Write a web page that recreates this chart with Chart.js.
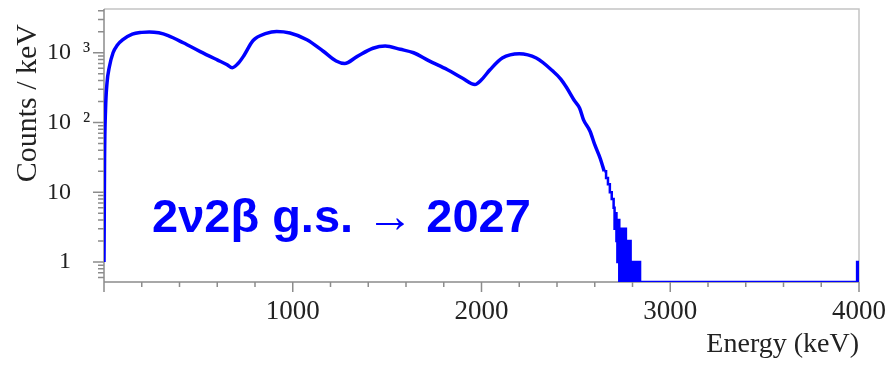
<!DOCTYPE html>
<html>
<head>
<meta charset="utf-8">
<script src="https://cdn.jsdelivr.net/npm/chart.js@4.4.1/dist/chart.umd.min.js"></script>
<style>
  html, body { margin: 0; padding: 0; background: #fff; }
  #wrap { width: 890px; height: 365px; }
</style>
</head>
<body>
<div id="wrap"><canvas id="graf" width="890" height="365"></canvas></div>
<script>
// spectrum (keV, counts / keV)
var mainEnergy = [0, 3, 8, 16, 28, 48, 70, 100, 150, 200, 240, 290, 340, 420, 510, 600, 650, 680, 710, 740,
                  790, 860, 915, 985, 1075, 1160, 1230, 1275, 1340, 1425, 1490, 1570, 1640, 1720, 1820, 1900,
                  1965, 2000, 2045, 2110, 2200, 2290, 2380, 2420, 2450, 2490, 2520, 2540, 2575, 2600, 2630, 2650];
var mainCounts = [1, 30, 150, 370, 620, 1000, 1280, 1540, 1850, 1960, 1990, 1930, 1760, 1390, 1040, 790, 680, 610, 700, 900,
                  1500, 1900, 2020, 1920, 1540, 1060, 760, 700, 880, 1160, 1250, 1120, 1000, 770, 570, 430,
                  350, 410, 570, 840, 970, 840, 540, 420, 320, 210, 160, 110, 75, 48, 30, 20];

// end point tail, drawn as histogram bins (left edges)
var tailEnergy = [2650, 2660, 2670, 2680, 2690, 2700, 2705, 2710, 2715, 2720, 2725, 2730, 2735, 2740, 2745,
                  2750, 2755, 2760, 2765, 2770, 2775, 2780, 2785, 2790, 2795, 2800, 2805, 2810, 2815,
                  2820, 2825, 2830, 2835, 2840, 3990, 4000];
var tailCounts = [20, 16, 13, 10, 8, 6, 3, 5, 2, 1, 4, 0, 3, 0, 3,
                  1, 0, 3, 0, 2, 0, 1, 2, 0, 1, 0, 1, 0, 1,
                  0, 1, 0, 1, 0, 1, 0];

var yMin = 0.516, yMax = 4240;
var yMajor = [1, 10, 100, 1000];
var yMinor = [0.6, 0.7, 0.8, 0.9, 2, 3, 4, 5, 6, 7, 8, 9, 20, 30, 40, 50, 60, 70, 80, 90,
              200, 300, 400, 500, 600, 700, 800, 900, 2000, 3000, 4000];
var yLabels = {1: '1\u2003', 10: '10\u2003', 100: '10\u2002\u00b2\u2009', 1000: '10\u2002\u00b3\u2009'};
var xLabels = [1000, 2000, 3000, 4000];

var note = '2\u03bd2\u03b2 g.s. \u2192 2027';

// empty bins sit on the bottom of the log axis
function toPoints(xs, ys) {
    return xs.map(function (x, i) { return {x: x, y: ys[i] > 0 ? ys[i] : yMin}; });
}

var frame = {
    id: 'frame',
    beforeDatasetsDraw: function (chart) {
        var ctx = chart.ctx, a = chart.chartArea, x = chart.scales.x, y = chart.scales.y;
        ctx.save();
        ctx.lineWidth = 1.5;
        ctx.strokeStyle = '#c4c4c4';
        ctx.beginPath();
        ctx.moveTo(a.left, a.top); ctx.lineTo(a.right, a.top); ctx.lineTo(a.right, a.bottom);
        ctx.stroke();
        ctx.strokeStyle = '#8c8c8c';
        ctx.beginPath();
        ctx.moveTo(a.left, a.top); ctx.lineTo(a.left, a.bottom); ctx.lineTo(a.right, a.bottom);
        // tick marks
        x.ticks.forEach(function (t) {
            var px = x.getPixelForValue(t.value);
            var len = t.value % 1000 === 0 ? 10 : 5;
            ctx.moveTo(px, a.bottom); ctx.lineTo(px, a.bottom + len);
        });
        y.ticks.forEach(function (t) {
            var py = y.getPixelForValue(t.value);
            var len = yMajor.indexOf(t.value) >= 0 ? 11 : 6;
            ctx.moveTo(a.left - len, py); ctx.lineTo(a.left, py);
        });
        ctx.stroke();
        ctx.restore();
    },
    afterDraw: function (chart) {
        var ctx = chart.ctx;
        ctx.save();
        ctx.font = 'bold 47px "Liberation Sans", Arial, sans-serif';
        ctx.fillStyle = '#0000ff';
        ctx.textBaseline = 'alphabetic';
        ctx.fillText(note, 152, 232);
        ctx.restore();
    }
};

var chart = new Chart(document.getElementById('graf'), {
    type: 'line',
    data: {
        datasets: [{
            label: 'spectrum',
            data: toPoints(mainEnergy, mainCounts),
            borderColor: '#0000ff',
            borderWidth: 3.5,
            pointRadius: 0,
            cubicInterpolationMode: 'monotone',
            fill: false
        }, {
            label: 'tail',
            data: toPoints(tailEnergy, tailCounts),
            borderColor: '#0000ff',
            borderWidth: 2.5,
            pointRadius: 0,
            stepped: true,
            fill: false
        }]
    },
    options: {
        responsive: false,
        animation: false,
        layout: {padding: {left: 0, right: 31, top: 9, bottom: 0}},
        plugins: {legend: {display: false}, tooltip: {enabled: false}},
        scales: {
            x: {
                type: 'linear',
                min: 0,
                max: 4000,
                grid: {display: false, drawTicks: false},
                border: {display: false},
                ticks: {
                    stepSize: 200,
                    autoSkip: false,
                    maxRotation: 0,
                    padding: 14,
                    color: '#222',
                    font: {family: '"Liberation Serif", "Times New Roman", serif', size: 27},
                    callback: function (v) { return xLabels.indexOf(v) >= 0 ? String(v) : ''; }
                },
                title: {
                    display: true,
                    text: 'Energy (keV)',
                    align: 'end',
                    color: '#222',
                    padding: {top: 0, bottom: 4},
                    font: {family: '"Liberation Serif", "Times New Roman", serif', size: 28}
                },
                afterFit: function (s) { s.height = 83; s.paddingLeft = 0; s.paddingRight = 0; }
            },
            y: {
                type: 'logarithmic',
                min: yMin,
                max: yMax,
                bounds: 'data',
                grid: {display: false, drawTicks: false},
                border: {display: false},
                afterBuildTicks: function (s) {
                    s.ticks = yMajor.concat(yMinor).sort(function (a, b) { return a - b; })
                        .map(function (v) { return {value: v}; });
                },
                ticks: {
                    autoSkip: false,
                    padding: 9,
                    color: '#222',
                    font: {family: '"Liberation Serif", "Times New Roman", serif', size: 24},
                    callback: function (v) { return yLabels[v] || ''; }
                },
                title: {
                    display: true,
                    text: 'Counts / keV  ',
                    align: 'end',
                    color: '#222',
                    padding: {top: 10, bottom: 0},
                    font: {family: '"Liberation Serif", "Times New Roman", serif', size: 30}
                },
                afterFit: function (s) { s.width = 104; s.paddingTop = 0; s.paddingBottom = 0; }
            }
        }
    },
    plugins: [frame]
});
</script>
</body>
</html>
